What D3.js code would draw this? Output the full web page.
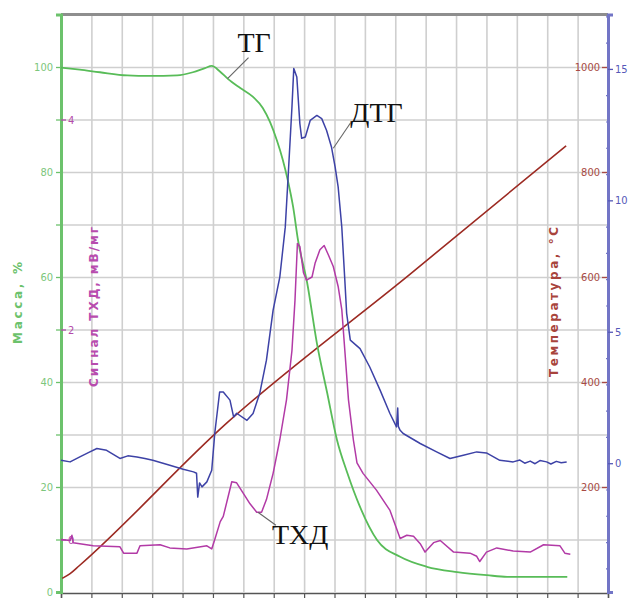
<!DOCTYPE html>
<html>
<head>
<meta charset="utf-8">
<script src="https://cdn.jsdelivr.net/npm/d3@7"></script>
<style>
  html, body { margin: 0; padding: 0; background: #fff; }
  svg { display: block; }
  .tick text { font-family: "Liberation Sans Narrow", "DejaVu Sans Condensed", "Liberation Sans", sans-serif; font-size: 11px; }
</style>
</head>
<body>
<svg id="chart" width="633" height="598"></svg>
<script>
// Thermal analysis run: time (min) vs mass, DTG, DSC-type signal and temperature

// ТГ — mass, %
const tgTime = [0, 3.1, 6.4, 10.9, 14.6, 19.1, 21.7, 23.7, 24.8, 26.1, 27.5, 29.5, 31.6, 33.2, 34.4, 35.5, 36.5, 37.3, 38.2, 39.0, 40.5, 42.1, 43.8, 45.4, 47.1, 49.2, 52.0, 55.8, 60.2, 65.2, 70.1, 73.4, 83.3];
const tgMass = [99.9, 99.5, 99.0, 98.4, 98.3, 98.4, 99.0, 99.8, 100.2, 99.2, 97.7, 96.0, 94.3, 92.2, 89.5, 86.1, 82.3, 78.5, 73.3, 67.0, 58.9, 47.4, 37.9, 29.0, 22.7, 16.2, 9.9, 6.7, 4.8, 3.8, 3.2, 2.9, 2.9];

// ДТГ
const dtgTime = [0, 1.5, 3.1, 4.5, 5.9, 7.5, 9.7, 11.0, 12.5, 13.8, 15.1, 17.9, 20.1, 21.8, 22.3, 22.5, 22.8, 23.2, 24.0, 24.8, 25.3, 26.1, 26.7, 27.8, 28.4, 28.9, 30.6, 31.6, 32.7, 33.8, 34.9, 36.0, 36.9, 37.4, 38.0, 38.3, 38.8, 39.3, 39.6, 40.2, 41.0, 42.1, 42.9, 43.7, 44.5, 45.1, 45.6, 46.2, 46.7, 47.0, 47.6, 49.2, 50.8, 52.5, 54.1, 55.2, 55.4, 55.5, 55.8, 56.3, 59.1, 61.8, 64.0, 66.2, 68.4, 70.0, 72.2, 74.4, 75.5, 76.3, 77.2, 78.0, 78.8, 79.9, 80.6, 81.5, 82.3, 83.2];
const dtgVal = [0.11, 0.05, 0.24, 0.40, 0.56, 0.49, 0.18, 0.28, 0.24, 0.18, 0.11, -0.08, -0.23, -0.33, -0.38, -1.29, -0.75, -0.90, -0.71, -0.27, 1.14, 2.71, 2.71, 2.40, 1.76, 1.90, 1.63, 1.89, 2.66, 3.92, 5.82, 7.08, 8.98, 11.02, 13.55, 15.02, 14.69, 12.92, 12.36, 12.41, 13.04, 13.23, 13.11, 12.66, 12.03, 11.27, 10.51, 8.98, 6.96, 5.70, 4.68, 4.36, 3.66, 2.78, 1.90, 1.38, 2.10, 1.40, 1.25, 1.13, 0.75, 0.43, 0.18, 0.30, 0.43, 0.39, 0.11, 0.05, 0.12, 0.00, 0.08, -0.02, 0.10, 0.05, -0.03, 0.07, 0.02, 0.05];

// ТХД signal, мВ/мг
const txdTime = [0, 1.5, 1.8, 2.0, 5.3, 9.7, 10.3, 12.5, 13.0, 16.3, 17.9, 20.7, 24.0, 24.8, 25.3, 26.2, 26.7, 28.1, 28.9, 30.0, 31.1, 32.2, 33.0, 33.8, 34.9, 36.0, 37.1, 38.0, 38.5, 38.9, 39.3, 39.9, 40.4, 41.3, 41.8, 42.6, 43.3, 44.0, 44.8, 45.6, 46.2, 46.7, 47.3, 48.1, 48.7, 49.7, 51.9, 54.1, 55.8, 56.9, 58.0, 59.1, 59.9, 61.3, 62.4, 64.6, 67.3, 68.4, 68.9, 70.0, 71.7, 74.4, 77.2, 79.4, 82.1, 82.9, 83.8];
const txdVal = [0.00, -0.01, 0.04, -0.03, -0.06, -0.07, -0.13, -0.13, -0.06, -0.05, -0.08, -0.09, -0.06, -0.09, 0.00, 0.17, 0.22, 0.55, 0.54, 0.44, 0.34, 0.26, 0.26, 0.38, 0.63, 0.95, 1.33, 1.80, 2.28, 2.82, 2.79, 2.54, 2.47, 2.50, 2.63, 2.76, 2.80, 2.71, 2.60, 2.41, 2.19, 1.80, 1.33, 0.95, 0.73, 0.63, 0.47, 0.28, 0.01, 0.04, 0.03, -0.04, -0.12, -0.03, -0.01, -0.12, -0.13, -0.16, -0.21, -0.12, -0.08, -0.11, -0.12, -0.05, -0.06, -0.13, -0.14];

// Temperature, °C
const tempTime = [0.2, 1.5, 3.0, 27.3, 57.4, 83.1];
const tempC = [26, 35, 50, 322, 605, 850];

// Axis ticks
const massTicks = [0, 20, 40, 60, 80, 100];
const txdTicks = [0, 2, 4];
const tempTicks = [200, 400, 600, 800, 1000];
const dtgTicks = [0, 5, 10, 15];

const svg = d3.select("#chart");
const L = 61, R = 608, T = 14.5, B = 592;
const fmt = d3.format("d");

const x = d3.scaleLinear().domain([0, 90]).range([L, R]);
const yMass = d3.scaleLinear().domain([0, 110]).range([B, T]);
const yTxd = d3.scaleLinear().domain([-0.5, 5.0]).range([B, T]);
const yTemp = d3.scaleLinear().domain([0, 1100]).range([B, T]);
const yDtg = d3.scaleLinear().domain([-4.9, 17.07]).range([B, T]);

const colors = {
  tg: "#58bc58", dtg: "#3d42a6", txd: "#b23aa6", temp: "#9c2a22",
  grid: "#cfcfcf", massLab: "#7cc67c", txdLab: "#b44aaa", tempLab: "#a84a44", dtgLab: "#5558b8"
};

// grid
const gH = svg.append("g").attr("transform", `translate(${L},0)`)
  .call(d3.axisLeft(yMass).tickValues(d3.range(10, 110, 10)).tickSize(-(R - L)).tickFormat(""));
gH.select(".domain").remove();
gH.selectAll("line").attr("stroke", colors.grid).attr("stroke-width", 1.6);

const gV = svg.append("g").attr("transform", `translate(0,${B})`)
  .call(d3.axisBottom(x).tickValues(d3.range(5, 90, 5)).tickSize(-(B - T)).tickFormat(""));
gV.select(".domain").remove();
gV.selectAll("line").attr("stroke", colors.grid).attr("stroke-width", 1.6);

// top frame
svg.append("line").attr("x1", L).attr("x2", R).attr("y1", T).attr("y2", T)
  .attr("stroke", "#8e8e8e").attr("stroke-width", 3);

// bottom axis
const gB = svg.append("g").attr("transform", `translate(0,${B + 1})`)
  .call(d3.axisBottom(x).tickValues(d3.range(0, 91, 5)).tickSize(6).tickFormat(""));
gB.select(".domain").attr("stroke", "#555").attr("stroke-width", 1.5);
gB.selectAll("line").attr("stroke", "#555").attr("stroke-width", 1.2);

// left mass axis
const gM = svg.append("g").attr("transform", `translate(${L},0)`)
  .call(d3.axisLeft(yMass).tickValues(d3.range(0, 101, 10)).tickSize(5)
    .tickFormat(d => massTicks.includes(d) ? fmt(d) : ""));
gM.select(".domain").attr("stroke", "#6cc26c").attr("stroke-width", 3);
gM.selectAll("line").attr("stroke", "#6cc26c").attr("stroke-width", 1.3);
gM.selectAll("text").attr("fill", colors.massLab).attr("x", -8);

// ТХД signal axis (inside, same line)
const gX = svg.append("g").attr("transform", `translate(${L},0)`)
  .call(d3.axisRight(yTxd).tickValues(txdTicks).tickSize(5).tickFormat(fmt));
gX.select(".domain").remove();
gX.selectAll("line").attr("stroke", colors.txdLab).attr("stroke-width", 1.3);
gX.selectAll("text").attr("fill", colors.txdLab).attr("x", 7);

// right DTG axis
const gD = svg.append("g").attr("transform", `translate(${R},0)`)
  .call(d3.axisRight(yDtg).tickValues(dtgTicks).tickSize(5).tickFormat(fmt));
gD.select(".domain").attr("stroke", "#7275c6").attr("stroke-width", 3);
gD.selectAll("line").attr("stroke", colors.dtgLab).attr("stroke-width", 1.3);
gD.selectAll("text").attr("fill", colors.dtgLab).attr("x", 7);
const gDm = svg.append("g").attr("transform", `translate(${R},0)`)
  .call(d3.axisLeft(yDtg).tickValues(d3.range(-4, 18, 1).filter(v => v % 5 !== 0)).tickSize(2).tickFormat(""));
gDm.select(".domain").remove();
gDm.selectAll("line").attr("stroke", "#7275c6").attr("stroke-width", 1.2);

// temperature axis (inside right line)
const gT = svg.append("g").attr("transform", `translate(${R - 1},0)`)
  .call(d3.axisLeft(yTemp).tickValues(tempTicks).tickSize(5).tickFormat(fmt));
gT.select(".domain").remove();
gT.selectAll("line").attr("stroke", colors.tempLab).attr("stroke-width", 1.3);
gT.selectAll("text").attr("fill", colors.tempLab).attr("x", -7);

// axis titles
function vTitle(text, cx, cy, len, color) {
  svg.append("text")
    .attr("transform", `translate(${cx},${cy}) rotate(-90)`)
    .attr("text-anchor", "middle").attr("dominant-baseline", "central")
    .attr("textLength", len).attr("lengthAdjust", "spacing")
    .attr("font-family", "DejaVu Sans, sans-serif").attr("font-size", 12).attr("font-weight", "bold")
    .attr("fill", color).text(text);
}
vTitle("Масса, %", 18, 303, 82, "#6cc26c");
vTitle("Сигнал ТХД, мВ/мг", 94, 307, 160, "#b84cae");
vTitle("Температура, °С", 554, 302, 150, "#a8443c");

// curves
function draw(times, vals, yScale, color, curve, w) {
  const pts = times.map((t, i) => [t, vals[i]]);
  svg.append("path").datum(pts)
    .attr("fill", "none").attr("stroke", color).attr("stroke-width", w)
    .attr("stroke-linejoin", "round")
    .attr("d", d3.line().x(d => x(d[0])).y(d => yScale(d[1])).curve(curve));
}
draw(tempTime, tempC, yTemp, colors.temp, d3.curveMonotoneX, 1.6);
draw(tgTime, tgMass, yMass, colors.tg, d3.curveMonotoneX, 1.8);
draw(txdTime, txdVal, yTxd, colors.txd, d3.curveLinear, 1.5);
draw(dtgTime, dtgVal, yDtg, colors.dtg, d3.curveLinear, 1.5);

// curve labels with leader lines, anchored on the curves
function tag(text, px, py, dx, dy, tx, ty) {
  svg.append("line").attr("x1", px).attr("y1", py).attr("x2", px + dx).attr("y2", py + dy)
    .attr("stroke", "#666").attr("stroke-width", 1.1);
  svg.append("text").attr("x", px + tx).attr("y", py + ty)
    .attr("font-family", "Liberation Serif, Times New Roman, serif").attr("font-size", 28)
    .attr("fill", "#111").text(text);
}
tag("ТГ", x(27.4), yMass(97.8), 21, -21, 10, -27);
tag("ДТГ", x(44.8), yDtg(11.98), 17, -25, 17, -26);
tag("ТХД", x(32.4), yTxd(0.26), 18, 13, 14, 32);
</script>
</body>
</html>
